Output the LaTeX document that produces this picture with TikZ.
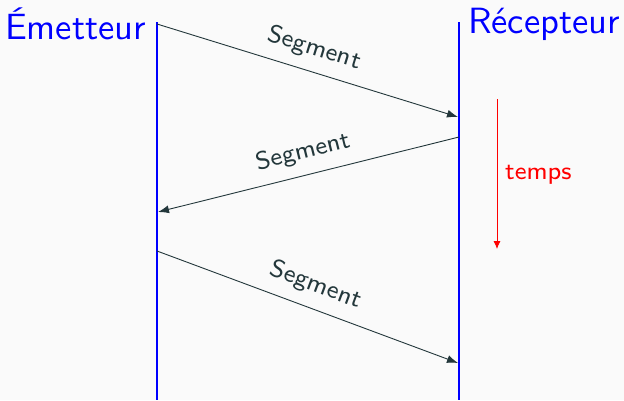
\documentclass[tikz,border=0pt]{standalone}
\usepackage{fontspec}
\newfontfamily\lmten{lmsans10-regular.otf}
\newfontfamily\lmeight{lmsans8-regular.otf}
\usetikzlibrary{arrows.meta}
\definecolor{dk}{HTML}{23373B}
\definecolor{bg}{HTML}{FAFAFA}
\begin{document}
\begin{tikzpicture}[x=1pt,y=-1pt,
  actor/.style={inner sep=0pt,text=blue,font=\lmten\fontsize{36.5}{40}\selectfont},
  lifeline/.style={draw=blue,line width=2pt},
  msg/.style={draw=dk,line width=0.9pt,-{Latex[length=11pt,width=8pt]}},
  msglabel/.style={midway,sloped,above=8pt,inner sep=3pt,text=dk,font=\lmeight\fontsize{25}{28}\selectfont},
  timearrow/.style={draw=red,line width=0.8pt,-{Latex[length=8pt,width=7pt]}},
  timelabel/.style={anchor=west,inner sep=0pt,text=red,font=\lmeight\fontsize{25}{28}\selectfont}]
\fill[bg] (0,0) rectangle (624,400);
\useasboundingbox (0,0) rectangle (624,400);
\coordinate (eT) at (157,22);
\coordinate (eB) at (157,400);
\coordinate (rT) at (459,22);
\coordinate (rB) at (459,400);
\node[actor,anchor=base west] (em) at (5,39) {Émetteur};
\node[actor,anchor=base west] (rec) at (468,33) {Récepteur};
\draw[lifeline] (eT) -- (eB);
\draw[lifeline] (rT) -- (rB);
\coordinate (s1) at (157,24);
\coordinate (e1) at (458,117);
\coordinate (s2) at (459,137);
\coordinate (e2) at (158,212);
\coordinate (s3) at (157,251);
\coordinate (e3) at (458,363);
\draw[msg] (s1) -- node[msglabel] (l1) {Segment} (e1);
\draw[msg] (s2) -- node[msglabel] (l2) {Segment} (e2);
\draw[msg] (s3) -- node[msglabel] (l3) {Segment} (e3);
\coordinate (tT) at (497,99);
\coordinate (tB) at (497,249);
\draw[timearrow] (tT) -- (tB);
\node[timelabel] (tl) at (505,175) {temps};
\end{tikzpicture}
\end{document}
